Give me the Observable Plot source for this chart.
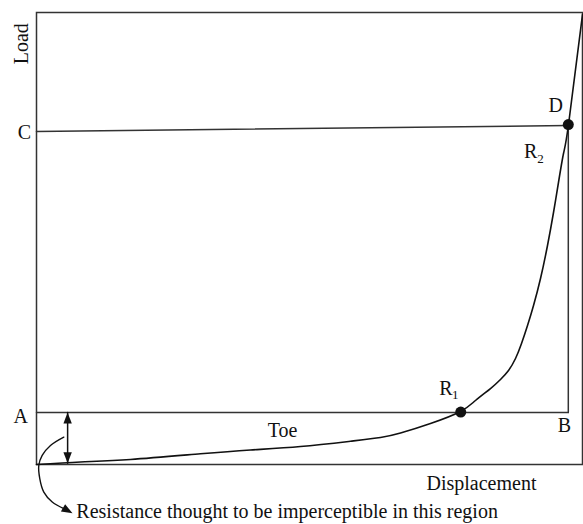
<!DOCTYPE html>
<html>
<head>
<meta charset="utf-8">
<script src="https://cdn.jsdelivr.net/npm/d3@7"></script>
<script src="https://cdn.jsdelivr.net/npm/@observablehq/plot@0.6"></script>
<style>
  html, body { margin: 0; padding: 0; background: #fff; }
  svg text { font-family: "Liberation Serif", "Times New Roman", serif !important; }
</style>
</head>
<body>
<div id="chart"></div>
<script>
// Load–displacement curve (displacement 0–100, load 0–100)
const displacement = [0, 8.06, 17.22, 30.04, 39.19, 48.35, 57.51, 63.0, 66.67, 72.16, 77.66, 80.4, 83.15, 84.98, 86.45, 87.73, 88.83, 89.93, 91.03, 92.31, 93.59, 94.69, 95.6, 96.52, 97.44, 100];
const load         = [0, 0.55, 1.11, 2.37, 3.21, 3.98, 5.15, 5.97, 6.97, 9.07, 11.73, 14.16, 16.81, 18.81, 20.8, 23.45, 26.77, 30.75, 35.18, 41.15, 48.45, 55.75, 62.39, 68.81, 75.22, 99.56];

// Reference lines
const lineA = {x: [0, 97.4], y: [11.5, 11.5]};
const lineC = {x: [0, 97.4], y: [73.7, 75.0]};
const lineB = {x: [97.4, 97.4], y: [11.5, 75.2]};

// Key points
const pointNames = ["R1", "D"];
const pointX = [77.7, 97.4];
const pointY = [11.6, 75.2];

// Toe double arrow (shaft ends = arrow tips)
const toeArrowX = [5.7, 5.7];
const toeArrowY = [11.5, 0.3];
const toeHeadRotate = [0, 180];

// Curved pointer arrow to the caption
const pointerX = [5.0, 2.56, 1.04, 0.42, 0.60, 1.34, 2.88, 5.0];
const pointerY = [6.04, 4.2, 2.0, -0.22, -3.1, -6.1, -8.3, -9.75];
const pointerTipX = 6.6;
const pointerTipY = -10.8;
const pointerHeadRotate = 120;

// Labels
const labelText   = ["C", "A", "B", "D", "R", "R", "Toe", "Displacement"];
const labelX      = [-2.2, -2.9, 96.7, 95.1, 90.5, 75.0, 45.05, 81.5];
const labelY      = [72.1, 9.1, 7.1, 77.9, 67.9, 15.3, 6.0, -5.75];
const subText     = ["2", "1"];
const subX        = [92.3, 76.7];
const subY        = [66.6, 14.4];
const yLabel      = {text: "Load", x: -2.75, y: 93.1};
const caption     = {text: "Resistance thought to be imperceptible in this region", x: 7.3, y: -11.9};

// Filled arrowhead symbol with its tip at the anchor point, pointing up
const arrowHead = {
  draw(context) {
    context.moveTo(0, 0);
    context.lineTo(4.2, 11);
    context.lineTo(-4.2, 11);
    context.closePath();
  }
};

const curve = displacement.map((d, i) => ({x: d, y: load[i]}));
const toLine = (o) => o.x.map((x, i) => ({x, y: o.y[i]}));
const points = pointNames.map((n, i) => ({name: n, x: pointX[i], y: pointY[i]}));
const heads = toeArrowX.map((x, i) => ({x, y: toeArrowY[i], rot: toeHeadRotate[i]}));
heads.push({x: pointerTipX, y: pointerTipY, rot: pointerHeadRotate});
const pointer = pointerX.map((x, i) => ({x, y: pointerY[i]}));
const labels = labelText.map((t, i) => ({t, x: labelX[i], y: labelY[i]}));
const subs = subText.map((t, i) => ({t, x: subX[i], y: subY[i]}));

const ink = "#111";
const serif = "Liberation Serif";
const chart = Plot.plot({
  width: 583,
  height: 524,
  marginLeft: 36,
  marginRight: 1,
  marginTop: 12,
  marginBottom: 60,
  x: {domain: [0, 100], axis: null},
  y: {domain: [0, 100], axis: null},
  style: {fontFamily: serif, fontSize: "20px", background: "#fff", overflow: "visible"},
  marks: [
    Plot.frame({stroke: "#333", strokeWidth: 1.5}),
    Plot.line(toLine(lineA), {x: "x", y: "y", stroke: "#333", strokeWidth: 1.5}),
    Plot.line(toLine(lineC), {x: "x", y: "y", stroke: "#333", strokeWidth: 1.5}),
    Plot.line(toLine(lineB), {x: "x", y: "y", stroke: "#333", strokeWidth: 1.5}),
    Plot.line(curve, {x: "x", y: "y", curve: "natural", stroke: ink, strokeWidth: 1.6}),
    Plot.dot(points, {x: "x", y: "y", r: 5.5, fill: ink, stroke: "none"}),
    Plot.line(toLine({x: toeArrowX, y: toeArrowY}), {x: "x", y: "y", stroke: ink, strokeWidth: 1.5}),
    Plot.line(pointer, {x: "x", y: "y", curve: "catmull-rom", stroke: ink, strokeWidth: 1.4}),
    Plot.dot(heads, {x: "x", y: "y", symbol: arrowHead, r: 4, rotate: "rot", fill: ink, stroke: "none"}),
    Plot.text(labels, {x: "x", y: "y", text: "t", lineAnchor: "bottom", textAnchor: "middle", fill: ink, fontSize: 20, fontFamily: serif}),
    Plot.text(subs, {x: "x", y: "y", text: "t", lineAnchor: "bottom", textAnchor: "middle", fill: ink, fontSize: 13, fontFamily: serif}),
    Plot.text([yLabel], {x: "x", y: "y", text: "text", rotate: -90, textAnchor: "middle", lineAnchor: "middle", fill: ink, fontSize: 20, fontFamily: serif}),
    Plot.text([caption], {x: "x", y: "y", text: "text", textAnchor: "start", lineAnchor: "bottom", fill: ink, fontSize: 20, fontFamily: serif})
  ]
});
document.getElementById("chart").appendChild(chart);
</script>
</body>
</html>
